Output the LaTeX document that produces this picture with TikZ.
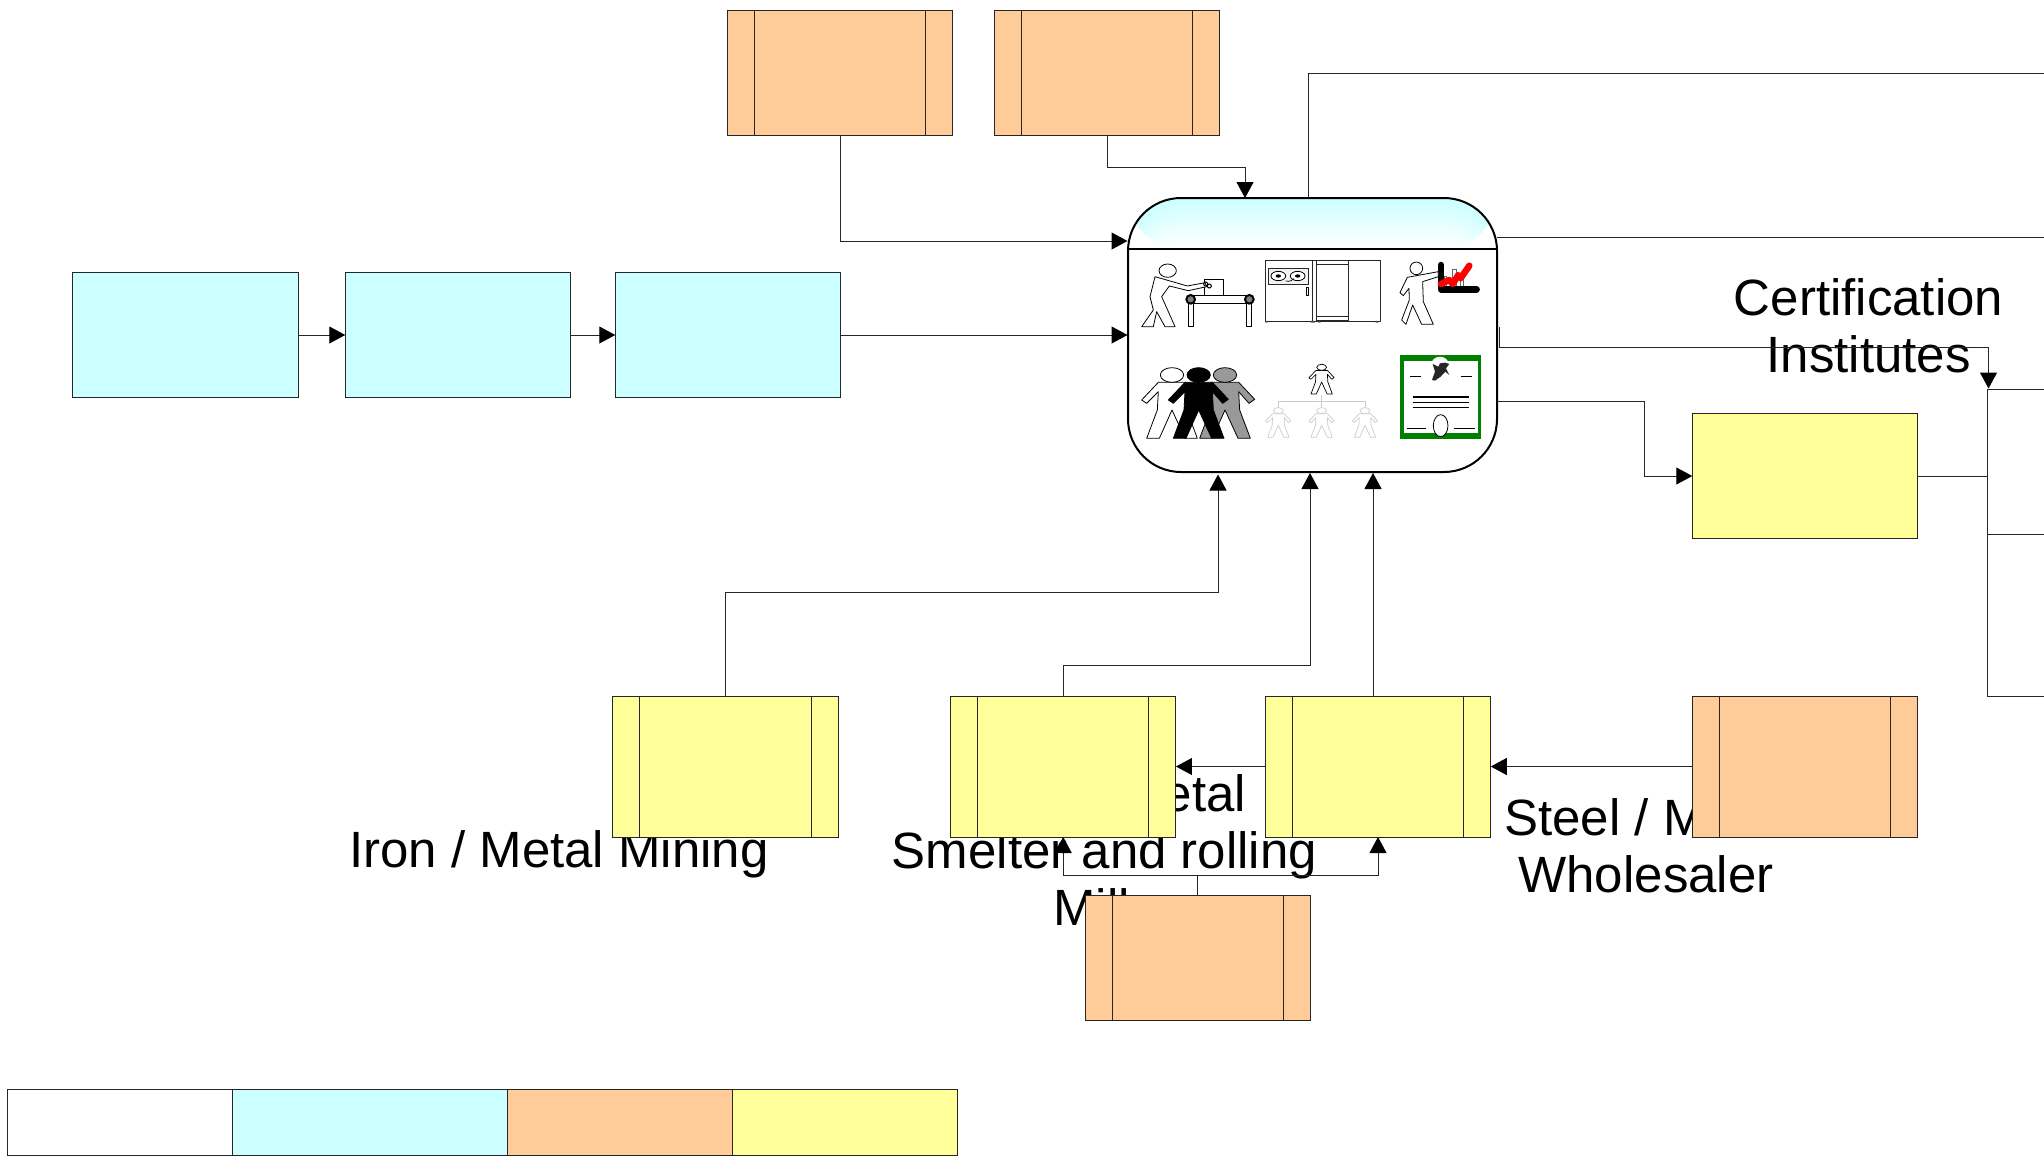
\documentclass[tikz,border=0pt]{standalone}
\usepackage{fontspec}
\setmainfont{Liberation Sans}
\usetikzlibrary{arrows.meta,calc}
\definecolor{cyanfill}{HTML}{CCFFFF}
\definecolor{orangefill}{HTML}{FFCC99}
\definecolor{yellowfill}{HTML}{FFFF99}
\definecolor{certgreen}{HTML}{007F00}
\definecolor{linegray}{HTML}{262626}
\tikzset{
  box/.style={draw=linegray,line width=1pt,inner sep=0pt,outer sep=0pt,minimum width=225.5pt,minimum height=125pt},
  tallbox/.style={box,minimum height=141pt},
  barred/.style={path picture={
     \draw[linegray,line width=1pt] ([xshift=27pt]path picture bounding box.north west) -- ([xshift=27pt]path picture bounding box.south west);
     \draw[linegray,line width=1pt] ([xshift=-27pt]path picture bounding box.north east) -- ([xshift=-27pt]path picture bounding box.south east);}},
  cyanbox/.style={box,fill=cyanfill},
  yellowbox/.style={box,fill=yellowfill},
  orangebarred/.style={box,fill=orangefill,barred},
  yellowbarred/.style={tallbox,fill=yellowfill,barred},
  orangetall/.style={tallbox,fill=orangefill,barred},
  legendcell/.style={draw=linegray,line width=1pt,inner sep=0pt,outer sep=0pt,minimum height=66pt},
  processbox/.style={draw=black,line width=2pt,fill=white,inner sep=0pt,outer sep=0pt,
     minimum width=369pt,minimum height=274pt,rounded corners=53pt,
     path picture={
       \foreach \i in {0,...,50}{
         \pgfmathsetmacro{\mixval}{100-2*\i}
         \fill[cyanfill!\mixval!white] ([yshift=-\i pt]path picture bounding box.north west) rectangle ([yshift=-51pt]path picture bounding box.north east);
       }
       \draw[black,line width=2pt] ([yshift=-51pt]path picture bounding box.north west) -- ([yshift=-51pt]path picture bounding box.north east);}},
  conn/.style={draw=linegray,line width=1pt},
  arr/.style={conn,-{Triangle[length=16pt,width=17pt,fill=black,color=black]}},
  label/.style={font=\fontsize{51}{56.6}\selectfont,align=center,inner sep=0pt,text=black},
  ico/.style={draw=black,line width=.8pt,fill=white,line join=round},
  pics/man/.style={code={
     \path[pic actions] (-41,22)--(41,22)--(89,73)--(72,85)--(41,50)--(44,105)--(76,190)--(39,190)--(0,105)--(-38,190)--(-76,190)--(-44,105)--(-41,50)--(-76,85)--(-91,75)--cycle;
     \path[pic actions] (0,0) ellipse [x radius=35,y radius=22];}}
}
\begin{document}
\begin{tikzpicture}[x=1pt,y=-1pt]
\useasboundingbox[fill=white] (0,0) rectangle (2044,1160);

% labels (lying under the boxes)
\node[label] (lcert) at (1868.5,326) {Certification\\Institutes};
\node[label] (liron) at (559,854) {Iron / Metal Mining};
\node[label] (lsmelt) at (1104.5,850) {Steel / Metal\\Smelter and rolling\\Mill\hspace*{26pt}};
\node[label] (lwhole) at (1646,846) {Steel / Metal\\Wholesaler};

% boxes
\node[cyanbox] (c1) at (185.5,335) {};
\node[cyanbox] (c2) at (458,335) {};
\node[cyanbox] (c3) at (728,335) {};
\node[orangebarred] (t1) at (840,73) {};
\node[orangebarred] (t2) at (1107,73) {};
\node[processbox] (proc) at (1312.5,335) {};
\node[yellowbox] (ysales) at (1805,476) {};
\node[yellowbarred] (y1) at (725.5,766.5) {};
\node[yellowbarred] (y2) at (1063.2,766.5) {};
\node[yellowbarred] (y3) at (1378,766.5) {};
\node[orangetall] (o2) at (1805,766.5) {};
\node[orangebarred] (o3) at (1197.8,958) {};

% legend
\node[legendcell,minimum width=225pt,fill=white] (lg1) at (120,1122) {};
\node[legendcell,minimum width=274.5pt,fill=cyanfill] (lg2) at (369.75,1122) {};
\node[legendcell,minimum width=225pt,fill=orangefill] (lg3) at (619.5,1122) {};
\node[legendcell,minimum width=225pt,fill=yellowfill] (lg4) at (844.5,1122) {};

% free ends and bends
\coordinate (pinA) at (1127.5,241);
\coordinate (pinB) at (1245,198);
\coordinate (bendB) at (1107,167);
\coordinate (pinC) at (1127.5,335);
\coordinate (pinD) at (1218,474.5);
\coordinate (bendD) at (1218,592.5);
\coordinate (pinE) at (1310,473);
\coordinate (bendE) at (1310,665);
\coordinate (pinF) at (1373,473);
\coordinate (bendG) at (1197.8,875);
\coordinate (topOutA) at (1308,198);
\coordinate (topOutB) at (1308,73.5);
\coordinate (topOutC) at (2044,73.5);
\coordinate (midOutA) at (1497,237);
\coordinate (midOutB) at (2044,237);
\coordinate (certA) at (1499,327);
\coordinate (certB) at (1499,347);
\coordinate (certC) at (1988.5,347);
\coordinate (certD) at (1988.5,388.5);
\coordinate (salesA) at (1497,401.5);
\coordinate (salesB) at (1644,401.5);
\coordinate (salesC) at (1644,476);
\coordinate (busTop) at (1987.5,389);
\coordinate (busMid) at (1987.5,476);
\coordinate (busLow) at (1987.5,534.5);
\coordinate (busEnd) at (1987.5,696);
\coordinate (outTop) at (2044,389);
\coordinate (outLow) at (2044,534.5);
\coordinate (outEnd) at (2044,696);

% connectors
\draw[arr] (c1.east) -- (c2.west);
\draw[arr] (c2.east) -- (c3.west);
\draw[arr] (c3.east) -- (pinC);
\draw[arr] (t1.south) |- (pinA);
\draw[arr] (t2.south) |- (pinB |- bendB) -- (pinB);
\draw[arr] (y1.north) |- (bendD) -- (pinD);
\draw[arr] (y2.north) |- (bendE) -- (pinE);
\draw[arr] (y3.north -| pinF) -- (pinF);
\draw[arr] (y3.west) -- (y2.east);
\draw[arr] (o2.west) -- (y3.east);
\draw[arr] (o3.north) -- (bendG) -| (y2.south);
\draw[arr] (bendG) -| (y3.south);
\draw[conn] (topOutA) -- (topOutB) -- (topOutC);
\draw[conn] (midOutA) -- (midOutB);
\draw[arr] (certA) -- (certB) -- (certC) -- (certD);
\draw[arr] (salesA) -- (salesB) -- (salesC) -- (ysales.west);
\draw[conn] (ysales.east) -- (busMid);
\draw[conn] (outTop) -- (busTop) -- (busEnd) -- (outEnd);
\draw[conn] (busLow) -- (outLow);

% pictograms inside the process box
\begin{scope}[shift={(1110,180)},x=.3333pt,y=-.3333pt]
  % worker at conveyor
  \draw[ico] (283,298) rectangle (341,346);
  \draw[ico] (235,360) rectangle (250,440);
  \draw[ico] (410,360) rectangle (425,440);
  \draw[ico] (240,346) rectangle (425,371);
  \draw[draw=black,fill=gray,line width=2pt] (242,358) circle [radius=13];
  \draw[draw=black,fill=gray,line width=2pt] (418,358) circle [radius=13];
  \draw[ico] (135,290)--(232,318)--(285,308)--(290,320)--(235,332)--(178,318)--(155,350)--(195,440)--(165,440)--(140,395)--(130,440)--(95,440)--(130,390)--(120,350)--cycle;
  \draw[ico] (173,272) ellipse [x radius=26,y radius=20];
  \draw[black,line width=1pt] (287,312) circle [radius=6] (298,318) circle [radius=6];
  % machine
  \draw[ico,draw=black!85] (465,241) rectangle (810,423);
  \draw[ico,draw=black!85] (607,241) rectangle (618,423);
  \draw[ico,draw=black!85] (620,241) rectangle (715,420);
  \draw[ico,draw=black!85] (620,252) rectangle (715,410);
  \draw[ico,draw=black!85,fill=black!5] (474,265) rectangle (596,312);
  \draw[ico] (505,288) ellipse [x radius=22,y radius=14];
  \draw[ico] (563,288) ellipse [x radius=22,y radius=14];
  \fill[black] (505,288) ellipse [x radius=8,y radius=5] (563,288) ellipse [x radius=8,y radius=5];
  \draw[black,line width=.7pt] (527,303) .. controls (540,306) and (548,300) .. (552,296);
  \draw[ico] (589,322) rectangle (596,345);
  \fill[black!70] (466,423) rectangle (473,428) (602,423) rectangle (615,428) (625,423) rectangle (632,428) (797,423) rectangle (805,428);
  % worker with chart
  \draw[draw=black!60,fill=white,line width=.7pt] (1003,290) rectangle (1010,325) (1028,268) rectangle (1038,325) (1052,285) rectangle (1060,325);
  \draw[black,line width=6.5pt,line cap=round,line join=round] (993,255) -- (993,328) -- (1100,328);
  \draw[ico] (892,292)--(985,275)--(985,290)--(938,305)--(940,365)--(970,433)--(935,433)--(908,375)--(888,433)--(875,420)--(898,360)--(897,325)--(880,347)--(870,338)--cycle;
  \draw[ico] (919,265) circle [radius=19];
  \draw[red,line width=6.5pt,line cap=round,line join=round] (993,312) -- (1018,300) -- (1028,312) -- (1045,285) -- (1052,295) -- (1078,257);
  % team
  \begin{scope}[line width=.8pt,line join=round]
    \pic[draw=black,fill=white] at (186,585) {man};
    \pic[draw=black,fill=black!40] at (345,585) {man};
    \pic[draw=black,fill=black] at (266,585) {man};
  \end{scope}
  % organisation
  \draw[black!20,line width=.8pt] (635,645) -- (635,665) (505,682) -- (505,665) -- (765,665) -- (765,682) (635,665) -- (635,682);
  \begin{scope}[line width=.7pt,line join=round]
    \pic[draw=black,fill=white,scale=.42] at (635,562) {man};
    \pic[draw=black!20,fill=white,scale=.42] at (505,692) {man};
    \pic[draw=black!20,fill=white,scale=.42] at (635,692) {man};
    \pic[draw=black!20,fill=white,scale=.42] at (765,692) {man};
  \end{scope}
  % certificate
  \fill[certgreen] (870,526) rectangle (1114,777);
  \fill[white] (881,544) rectangle (1103,760);
  \fill[white] (990,558) circle [radius=28];
  \fill[black!85] (968,552)--(985,560)--(990,550)--(1005,548)--(1018,552)--(1008,565)--(1018,585)--(1006,575)--(992,590)--(975,602)--(966,600)--(975,575)--cycle;
  \draw[black,line width=.7pt] (900,590) -- (933,590) (1052,590) -- (1085,590) (890,745) -- (948,745) (1032,745) -- (1095,745);
  \draw[black,line width=1.6pt] (908,651) -- (1076,651) (908,667) -- (1076,667) (908,683) -- (1076,683);
  \draw[ico] (992,737) ellipse [x radius=22,y radius=33];
\end{scope}
\end{tikzpicture}
\end{document}
